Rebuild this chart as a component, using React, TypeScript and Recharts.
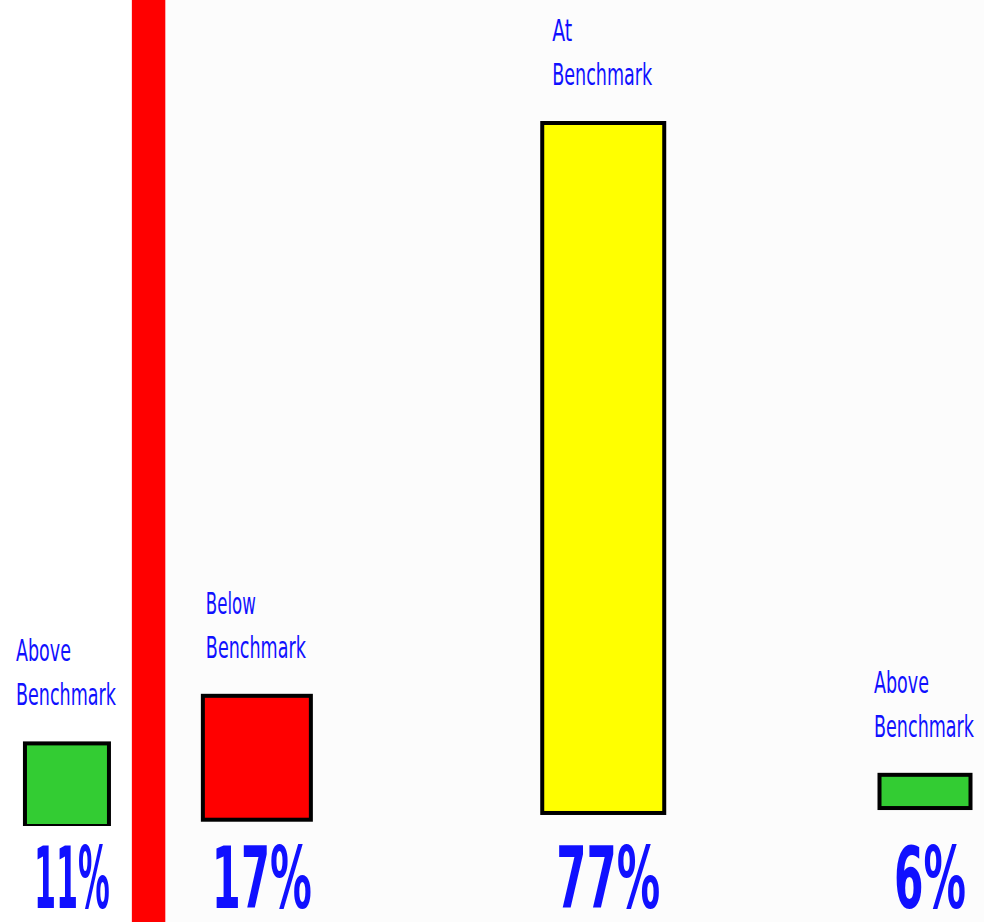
import { Bar, BarChart, ReferenceArea, XAxis, YAxis } from 'recharts';

// categories and values
const categories = ['Above Benchmark', 'Below Benchmark', 'At Benchmark', 'Above Benchmark'];
const topLabelLines = [
  ['Above', 'Benchmark'],
  ['Below', 'Benchmark'],
  ['At', 'Benchmark'],
  ['Above', 'Benchmark'],
];
const percentLabels = ['11%', '17%', '77%', '6%'];
const barPositions = [6.8, 26.1, 61.3, 94.0];
const barBases = [0, 0.7, 1.45, 2.0];
const barTops = [9.2, 14.5, 78.3, 5.7];
const dividerFrom = 13.4;
const dividerTo = 16.8;

const BAR_COLORS = ['#33cc33', '#ff0000', '#ffff00', '#33cc33'];
const BAR_WIDTHS = [84, 108, 122, 91];
const BLUE = '#1010ff';
const FONT = '"Comic Sans MS", "DejaVu Sans", sans-serif';
const WORD_WIDTHS: Record<string, number> = { Above: 55, Below: 50, At: 20, Benchmark: 100 };
const PCT_WIDTHS = [76, 100, 104, 72];

const data = categories.map((name, i) => ({
  name,
  pos: barPositions[i],
  range: [barBases[i], barTops[i]],
}));

function BarShape(props: any) {
  const { x, y, width, height, index } = props;
  const w = BAR_WIDTHS[index];
  const cx = x + width / 2;
  const [line1, line2] = topLabelLines[index];
  const base2 = y - 38;
  const left = cx - 51;
  return (
    <g>
      <rect
        x={cx - w / 2}
        y={y}
        width={w}
        height={height}
        fill={BAR_COLORS[index]}
        stroke="#000"
        strokeWidth={4}
      />
      <text
        x={left}
        y={base2 - 44}
        fill={BLUE}
        fontSize={30}
        fontFamily={FONT}
        textLength={WORD_WIDTHS[line1]}
        lengthAdjust="spacingAndGlyphs"
      >
        {line1}
      </text>
      <text
        x={left}
        y={base2}
        fill={BLUE}
        fontSize={30}
        fontFamily={FONT}
        textLength={WORD_WIDTHS[line2]}
        lengthAdjust="spacingAndGlyphs"
      >
        {line2}
      </text>
    </g>
  );
}

function PercentTick(props: any) {
  const { x, y, payload } = props;
  const i = barPositions.indexOf(payload.value);
  if (i < 0) return null;
  return (
    <text
      x={x + 5}
      y={y + 82}
      textAnchor="middle"
      fill={BLUE}
      fontSize={86}
      fontWeight="bold"
      fontFamily={FONT}
      textLength={PCT_WIDTHS[i]}
      lengthAdjust="spacingAndGlyphs"
    >
      {percentLabels[i]}
    </text>
  );
}

export default function App() {
  return (
    <div style={{ position: 'absolute', left: 0, top: 0, width: 984, height: 922, background: '#fcfcfc' }}>
      <BarChart
        width={984}
        height={922}
        data={data}
        margin={{ top: 0, right: 0, left: 0, bottom: 0 }}
        barSize={100}
      >
        <XAxis
          type="number"
          dataKey="pos"
          domain={[0, 100]}
          ticks={barPositions}
          interval={0}
          axisLine={false}
          tickLine={false}
          tickSize={0}
          tickMargin={0}
          height={96}
          tick={<PercentTick />}
          allowDataOverflow
        />
        <YAxis hide domain={[0, 92]} allowDataOverflow />
        <ReferenceArea x1={0} x2={dividerFrom} y1={-11} y2={92} fill="#ffffff" fillOpacity={1} ifOverflow="visible" />
        <ReferenceArea x1={dividerFrom} x2={dividerTo} y1={-11} y2={92} fill="#ff0000" fillOpacity={1} ifOverflow="visible" />
        <Bar dataKey="range" shape={<BarShape />} isAnimationActive={false} />
      </BarChart>
    </div>
  );
}
